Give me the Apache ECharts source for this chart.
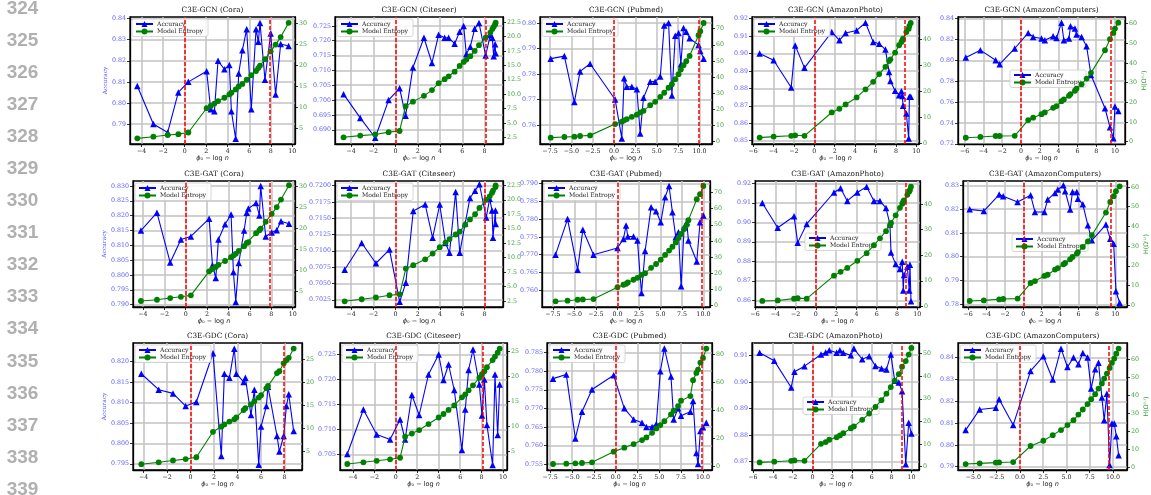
<!DOCTYPE html>
<html>
<head>
<meta charset="utf-8">
<script src="https://cdn.jsdelivr.net/npm/echarts@6/dist/echarts.min.js"></script>
<style>
  html, body { margin: 0; padding: 0; background: #ffffff; }
  #chart { width: 1151px; height: 495px; }
</style>
</head>
<body>
<div id="chart"></div>
<script>
// ---------------------------------------------------------------------------
// Accuracy and model entropy against phi_0 - log n, three models x five datasets
// ---------------------------------------------------------------------------

const lineNumbers = ['324', '325', '326', '327', '328', '329', '330', '331',
                     '332', '333', '334', '335', '336', '337', '338', '339'];

const titles = [
  'C3E-GCN (Cora)', 'C3E-GCN (Citeseer)', 'C3E-GCN (Pubmed)', 'C3E-GCN (AmazonPhoto)', 'C3E-GCN (AmazonComputers)',
  'C3E-GAT (Cora)', 'C3E-GAT (Citeseer)', 'C3E-GAT (Pubmed)', 'C3E-GAT (AmazonPhoto)', 'C3E-GAT (AmazonComputers)',
  'C3E-GDC (Cora)', 'C3E-GDC (Citeseer)', 'C3E-GDC (Pubmed)', 'C3E-GDC (AmazonPhoto)', 'C3E-GDC (AmazonComputers)'
];

const seriesNames = ['Accuracy', 'Model Entropy'];
const xAxisName = '{i|ϕ}₀ − log {i|n}';
const leftAxisName = 'Accuracy';
const rightAxisName = 'H(Ω⁽ᴸ⁾)';

// Vertical reference lines: phi_0 - log n = 0 and the upper threshold per panel
const lowerCut = 0;
const upperCuts = [7.9, 8.07, 9.9, 8.9, 9.57,
                   7.88, 8.06, 9.8, 8.88, 9.45,
                   7.94, 8.07, 9.9, 9.0, 9.53];

// ---- C3E-GCN ----
const gcnCoraPhi = [-4.40, -2.91, -1.58, -0.59, 0.34, 2.04, 2.42, 2.76, 3.10, 3.69, 4.15, 4.34, 4.74, 5.02, 5.36, 5.76, 6.19, 6.63, 6.84, 7.00, 7.46, 7.99, 8.45, 8.92, 9.66];
const gcnCoraAcc = [0.808, 0.790, 0.786, 0.805, 0.810, 0.815, 0.797, 0.796, 0.820, 0.816, 0.818, 0.796, 0.783, 0.814, 0.825, 0.835, 0.797, 0.835, 0.829, 0.838, 0.811, 0.833, 0.804, 0.828, 0.827];
const gcnCoraEnt = [2.6, 3.0, 3.4, 3.6, 4.0, 9.8, 10.35, 10.9, 11.5, 12.3, 13.1, 13.5, 14.3, 15.0, 15.6, 16.6, 17.7, 18.7, 19.4, 20.0, 21.5, 23.4, 25.0, 26.8, 30.2];

const gcnCiteseerPhi = [-4.68, -3.18, -1.83, -0.63, 0.36, 0.90, 1.56, 2.55, 3.27, 3.87, 4.41, 4.77, 5.31, 5.76, 6.12, 6.36, 6.72, 7.11, 7.50, 8.10, 8.52, 8.70, 8.82, 8.95, 9.00];
const gcnCiteseerAcc = [0.702, 0.694, 0.6873, 0.700, 0.704, 0.6947, 0.711, 0.721, 0.7125, 0.722, 0.721, 0.721, 0.719, 0.723, 0.725, 0.7155, 0.718, 0.724, 0.726, 0.715, 0.722, 0.721, 0.7148, 0.7188, 0.7158];
const gcnCiteseerEnt = [2.5, 2.8, 3.0, 3.4, 3.6, 7.9, 8.7, 9.7, 10.7, 11.9, 12.6, 13.1, 13.9, 14.9, 15.6, 16.0, 16.6, 17.5, 18.5, 19.8, 20.7, 21.3, 21.7, 22.1, 22.4];

const gcnPubmedPhi = [-7.42, -5.82, -4.65, -3.98, -2.81, 0.12, 0.90, 1.17, 1.48, 2.07, 2.66, 3.05, 3.44, 4.22, 4.80, 5.40, 5.86, 6.37, 6.76, 7.15, 7.54, 7.81, 8.12, 8.44, 8.83, 9.88, 10.08, 10.47];
const gcnPubmedAcc = [0.786, 0.787, 0.769, 0.781, 0.784, 0.770, 0.7548, 0.7783, 0.775, 0.775, 0.774, 0.7567, 0.7707, 0.777, 0.777, 0.779, 0.799, 0.800, 0.7716, 0.795, 0.796, 0.7838, 0.798, 0.7965, 0.794, 0.7913, 0.789, 0.786];
const gcnPubmedEnt = [2.5, 2.9, 3.1, 3.5, 3.9, 10.9, 12.4, 13.2, 14.0, 15.4, 16.7, 18.1, 19.1, 22.6, 24.7, 27.8, 30.3, 33.4, 35.6, 38.7, 41.8, 44.7, 47.4, 49.8, 53.1, 65.9, 68.4, 73.5];

const gcnPhotoPhi = [-5.35, -3.98, -2.26, -1.87, -0.96, 1.71, 2.46, 3.07, 4.15, 5.02, 5.77, 6.36, 6.97, 7.33, 7.46, 7.92, 8.31, 8.54, 8.63, 8.70, 9.02, 9.25, 9.32, 9.45];
const gcnPhotoAcc = [0.900, 0.8962, 0.8805, 0.9047, 0.8918, 0.9124, 0.9076, 0.9118, 0.9133, 0.9177, 0.9067, 0.9057, 0.9023, 0.8895, 0.8843, 0.8786, 0.8761, 0.8784, 0.8756, 0.870, 0.8656, 0.8513, 0.8752, 0.8752];
const gcnPhotoEnt = [2.2, 2.6, 2.9, 3.1, 2.9, 11.9, 13.3, 15.0, 17.7, 20.8, 23.7, 26.7, 29.5, 31.7, 32.4, 35.0, 37.8, 39.1, 39.7, 40.4, 42.9, 44.2, 45.3, 46.4];

const gcnComputersPhi = [-5.88, -4.33, -2.70, -2.27, -0.67, 0.76, 1.29, 2.18, 2.53, 3.42, 3.78, 4.31, 4.56, 5.10, 5.27, 5.74, 5.91, 6.45, 6.98, 7.45, 8.94, 9.47, 9.83, 10.00, 10.36];
const gcnComputersAcc = [0.8028, 0.8098, 0.8002, 0.7964, 0.8114, 0.8263, 0.8225, 0.8209, 0.8193, 0.8231, 0.8215, 0.8362, 0.8193, 0.8209, 0.8327, 0.8305, 0.8247, 0.8225, 0.8136, 0.7859, 0.7541, 0.7359, 0.7254, 0.7557, 0.7515];
const gcnComputersEnt = [2.0, 2.4, 2.9, 2.9, 3.0, 11.0, 12.2, 14.0, 14.9, 17.2, 18.1, 20.6, 21.5, 23.3, 24.2, 25.9, 27.0, 29.2, 32.1, 35.0, 46.5, 52.1, 55.3, 57.5, 60.5];

// ---- C3E-GAT ----
const gatCoraPhi = [-4.19, -2.69, -1.45, -0.45, 0.48, 2.19, 2.50, 2.81, 3.06, 3.68, 4.24, 4.46, 4.68, 4.96, 5.46, 5.71, 5.86, 6.58, 6.89, 7.01, 7.48, 8.04, 8.51, 8.91, 9.66];
const gatCoraAcc = [0.815, 0.821, 0.8042, 0.812, 0.813, 0.819, 0.8033, 0.799, 0.812, 0.8171, 0.8204, 0.801, 0.7909, 0.804, 0.815, 0.821, 0.8224, 0.8243, 0.8201, 0.830, 0.813, 0.8143, 0.8151, 0.8181, 0.8173];
const gatCoraEnt = [2.7, 3.0, 3.4, 3.7, 4.05, 9.75, 10.3, 10.8, 11.3, 12.2, 13.1, 13.5, 13.9, 14.6, 15.7, 16.5, 16.7, 18.8, 19.5, 19.9, 21.5, 23.4, 25.0, 26.8, 30.2];

const gatCiteseerPhi = [-4.58, -3.05, -1.77, -0.55, 0.37, 0.92, 1.59, 2.66, 3.33, 3.97, 4.49, 4.85, 5.40, 5.77, 6.26, 6.69, 7.15, 7.54, 8.15, 8.46, 8.67, 8.76, 8.98, 9.00];
const gatCiteseerAcc = [0.7071, 0.7112, 0.7081, 0.7102, 0.7022, 0.7051, 0.7161, 0.7171, 0.712, 0.7171, 0.7112, 0.7097, 0.719, 0.7097, 0.7142, 0.7181, 0.7192, 0.7202, 0.7151, 0.718, 0.7162, 0.712, 0.7162, 0.7141];
const gatCiteseerEnt = [2.45, 2.8, 3.1, 3.5, 3.65, 8.1, 8.7, 9.7, 10.7, 11.8, 12.6, 13.2, 14.0, 14.5, 15.7, 16.6, 17.5, 18.6, 20.0, 20.6, 21.2, 21.6, 22.2, 22.5];

const gatPubmedPhi = [-7.19, -5.80, -4.63, -4.02, -2.78, 0.01, 0.70, 1.01, 1.21, 1.87, 2.33, 2.80, 3.22, 3.92, 4.50, 5.04, 5.55, 6.01, 6.40, 6.79, 7.10, 7.41, 7.76, 8.07, 8.26, 9.23, 9.61, 10.00];
const gatPubmedAcc = [0.770, 0.780, 0.7658, 0.777, 0.770, 0.7719, 0.7744, 0.7782, 0.7751, 0.7751, 0.774, 0.7592, 0.771, 0.7833, 0.7822, 0.7791, 0.7861, 0.7893, 0.7819, 0.7749, 0.7763, 0.7611, 0.7777, 0.7791, 0.774, 0.7681, 0.7791, 0.781];
const gatPubmedEnt = [2.5, 2.9, 3.5, 3.7, 3.9, 11.3, 12.8, 13.4, 14.2, 15.9, 17.1, 18.9, 20.0, 23.3, 25.7, 28.4, 31.3, 34.0, 36.4, 39.1, 41.8, 44.3, 47.4, 50.0, 52.9, 65.9, 69.0, 74.1];

const gatPhotoPhi = [-5.28, -3.76, -2.15, -1.79, -0.90, 1.79, 2.44, 3.10, 4.09, 5.01, 5.73, 6.32, 6.92, 7.31, 7.41, 7.87, 8.29, 8.52, 8.62, 8.69, 9.02, 9.21, 9.28, 9.38];
const gatPhotoAcc = [0.9099, 0.8972, 0.9031, 0.8896, 0.8992, 0.9153, 0.9175, 0.911, 0.9153, 0.9183, 0.911, 0.911, 0.9073, 0.8989, 0.8845, 0.8786, 0.8761, 0.8798, 0.8651, 0.873, 0.8772, 0.8651, 0.8783, 0.8595];
const gatPhotoEnt = [2.1, 2.3, 3.0, 3.2, 3.0, 12.0, 13.5, 15.0, 17.8, 20.8, 23.9, 26.6, 29.4, 31.7, 32.6, 35.6, 38.5, 40.1, 41.0, 41.4, 43.6, 44.9, 45.5, 46.8];

const gatComputersPhi = [-5.82, -4.29, -2.62, -2.18, -0.62, 0.80, 1.27, 2.29, 2.65, 3.45, 3.75, 4.36, 4.55, 5.09, 5.35, 5.82, 5.93, 6.47, 7.02, 7.45, 8.98, 9.45, 9.82, 10.07, 10.47];
const gatComputersAcc = [0.8199, 0.8192, 0.8261, 0.8254, 0.823, 0.8258, 0.8188, 0.8188, 0.824, 0.8268, 0.8282, 0.830, 0.8275, 0.8198, 0.8272, 0.8272, 0.8244, 0.822, 0.8132, 0.8069, 0.8135, 0.8076, 0.8055, 0.7855, 0.7807];
const gatComputersEnt = [2.2, 2.5, 3.0, 3.2, 3.4, 11.3, 12.3, 14.9, 15.5, 18.1, 18.9, 20.8, 21.5, 23.3, 24.5, 26.2, 27.0, 29.6, 32.4, 35.5, 47.0, 52.4, 55.3, 57.8, 60.3];

// ---- C3E-GDC ----
const gdcCoraPhi = [-4.20, -2.72, -1.50, -0.42, 0.49, 1.91, 2.62, 2.88, 3.31, 3.73, 3.90, 4.52, 4.67, 5.15, 5.44, 5.81, 6.01, 6.46, 6.60, 7.37, 7.57, 7.94, 8.17, 8.37, 8.79];
const gdcCoraAcc = [0.817, 0.8131, 0.8122, 0.8091, 0.8101, 0.822, 0.7969, 0.817, 0.816, 0.8231, 0.817, 0.815, 0.816, 0.8069, 0.8131, 0.7948, 0.8041, 0.8091, 0.8138, 0.8018, 0.798, 0.8018, 0.8091, 0.812, 0.803];
const gdcCoraEnt = [2.3, 2.7, 3.1, 3.4, 3.8, 9.3, 10.4, 10.9, 11.5, 12.0, 12.4, 14.0, 14.4, 15.2, 15.9, 16.7, 17.2, 18.7, 19.2, 22.0, 22.4, 24.1, 24.8, 25.3, 27.3];

const gdcCiteseerPhi = [-4.52, -3.02, -1.78, -0.53, 0.40, 0.87, 1.50, 2.18, 3.05, 4.00, 4.45, 4.92, 5.45, 6.17, 6.48, 6.79, 7.20, 7.79, 8.04, 8.26, 8.50, 9.03, 9.25, 9.50, 9.69];
const gdcCiteseerAcc = [0.7051, 0.714, 0.709, 0.708, 0.712, 0.708, 0.7169, 0.7129, 0.721, 0.725, 0.7199, 0.723, 0.7179, 0.7059, 0.714, 0.7219, 0.726, 0.719, 0.7128, 0.720, 0.7109, 0.7029, 0.721, 0.7089, 0.719];
const gdcCiteseerEnt = [2.56, 2.9, 3.2, 3.5, 3.8, 8.0, 8.6, 9.3, 10.5, 11.8, 12.5, 13.3, 14.2, 15.8, 16.4, 17.2, 18.2, 19.7, 20.4, 21.0, 21.8, 23.2, 23.9, 24.7, 25.5];

const gdcPubmedPhi = [-7.18, -5.66, -4.62, -3.86, -2.71, -0.23, 0.99, 2.06, 3.02, 3.52, 4.17, 4.66, 5.12, 5.58, 6.34, 6.65, 7.15, 7.49, 8.56, 8.87, 9.25, 9.44, 9.71, 10.01, 10.39];
const gdcPubmedAcc = [0.778, 0.7791, 0.7619, 0.7691, 0.7751, 0.7789, 0.770, 0.767, 0.7661, 0.765, 0.765, 0.7658, 0.780, 0.7861, 0.7786, 0.767, 0.770, 0.768, 0.7691, 0.772, 0.758, 0.755, 0.7639, 0.7649, 0.7661];
const gdcPubmedEnt = [1.9, 2.1, 2.4, 2.6, 3.1, 10.7, 13.5, 16.1, 18.9, 20.8, 24.1, 27.2, 29.6, 32.4, 37.2, 39.8, 43.1, 46.9, 50.2, 61.5, 66.7, 69.1, 74.1, 77.4, 84.0];

const gdcPhotoPhi = [-5.33, -3.85, -2.14, -1.81, -0.80, 0.87, 1.34, 1.71, 2.45, 2.78, 3.12, 3.89, 4.19, 5.03, 5.74, 6.37, 6.98, 7.48, 7.92, 8.32, 8.73, 9.06, 9.43, 9.73, 10.00];
const gdcPhotoAcc = [0.9109, 0.9079, 0.8979, 0.9038, 0.9059, 0.9103, 0.911, 0.9119, 0.9109, 0.9119, 0.9109, 0.910, 0.9125, 0.9085, 0.9096, 0.906, 0.905, 0.9046, 0.9103, 0.9004, 0.8998, 0.8965, 0.8691, 0.8846, 0.8806];
const gdcPhotoEnt = [1.9, 2.2, 2.6, 2.75, 2.6, 10.1, 10.9, 11.9, 13.0, 13.8, 14.8, 17.0, 17.8, 20.7, 23.5, 26.4, 29.4, 32.3, 35.2, 38.1, 40.9, 44.2, 46.7, 49.6, 52.5];

const gdcComputersPhi = [-5.83, -4.32, -2.59, -2.23, -0.72, 1.15, 2.52, 3.53, 4.42, 5.11, 5.76, 6.29, 6.76, 7.27, 7.66, 8.09, 8.45, 8.81, 9.06, 9.35, 9.64, 9.89, 10.14, 10.36, 10.61];
const gdcComputersAcc = [0.8068, 0.8162, 0.817, 0.8209, 0.8091, 0.8339, 0.8406, 0.830, 0.8441, 0.8357, 0.840, 0.837, 0.8421, 0.840, 0.8258, 0.8347, 0.8376, 0.8217, 0.8113, 0.8235, 0.7908, 0.8098, 0.8098, 0.804, 0.7953];
const gdcComputersEnt = [2.0, 2.4, 2.8, 2.9, 3.1, 12.0, 14.9, 18.0, 20.8, 23.6, 26.3, 29.4, 32.2, 35.2, 37.9, 40.7, 43.8, 46.6, 49.3, 52.1, 55.2, 58.0, 60.4, 63.1, 65.9];

// ---------------------------------------------------------------------------
// Panel layout: grid box [left, top, width, height] in px, axis ranges as
// [min, max, tick step, label decimals], legend placement.
// ---------------------------------------------------------------------------
const panels = [
  { phi: gcnCoraPhi, acc: gcnCoraAcc, ent: gcnCoraEnt,
    box: [130, 17, 165, 127], x: [-5.08, 10.25, 2, 0], yl: [0.7805, 0.8408, 0.01, 2], yr: [1.25, 31.6, 5, 0], legend: 'ul' },
  { phi: gcnCiteseerPhi, acc: gcnCiteseerAcc, ent: gcnCiteseerEnt,
    box: [335, 17, 168, 127], x: [-5.45, 9.66, 2, 0], yl: [0.6852, 0.728, 0.005, 3], yr: [1.34, 23.4, 2.5, 1], legend: 'ul' },
  { phi: gcnPubmedPhi, acc: gcnPubmedAcc, ent: gcnPubmedEnt,
    box: [540, 17, 172, 127], x: [-8.67, 11.45, 2.5, 1], yl: [0.7526, 0.8023, 0.01, 2], yr: [-1.44, 77.2, 10, 0], legend: 'ul' },
  { phi: gcnPhotoPhi, acc: gcnPhotoAcc, ent: gcnPhotoEnt,
    box: [752, 17, 167, 127], x: [-6.1, 10.26, 2, 0], yl: [0.8481, 0.921, 0.01, 2], yr: [-0.26, 48.7, 10, 0], legend: 'ul' },
  { phi: gcnComputersPhi, acc: gcnComputersAcc, ent: gcnComputersEnt,
    box: [958, 17, 167, 127], x: [-6.71, 11.07, 2, 0], yl: [0.7198, 0.8416, 0.02, 2], yr: [-1.18, 63.4, 10, 0], legend: [1010, 70] },

  { phi: gatCoraPhi, acc: gatCoraAcc, ent: gatCoraEnt,
    box: [133, 181, 162, 126], x: [-4.93, 10.22, 2, 0], yl: [0.7892, 0.8317, 0.005, 3], yr: [1.28, 31.2, 5, 0], legend: 'ul' },
  { phi: gatCiteseerPhi, acc: gatCiteseerAcc, ent: gatCiteseerEnt,
    box: [335, 181, 168, 126], x: [-5.45, 9.66, 2, 0], yl: [0.7014, 0.7207, 0.0025, 4], yr: [1.46, 23.25, 2.5, 1], legend: 'ul' },
  { phi: gatPubmedPhi, acc: gatPubmedAcc, ent: gatPubmedEnt,
    box: [542, 181, 168, 126], x: [-8.77, 10.77, 2.5, 1], yl: [0.7553, 0.7907, 0.005, 3], yr: [-1.0, 77.2, 10, 0], legend: 'ul' },
  { phi: gatPhotoPhi, acc: gatPhotoAcc, ent: gatPhotoEnt,
    box: [755, 181, 165, 126], x: [-6.0, 10.27, 2, 0], yl: [0.8566, 0.9212, 0.01, 2], yr: [-0.26, 49.0, 10, 0], legend: [805, 233] },
  { phi: gatComputersPhi, acc: gatComputersAcc, ent: gatComputersEnt,
    box: [963, 181, 164, 126], x: [-6.55, 11.27, 2, 0], yl: [0.7789, 0.8318, 0.01, 2], yr: [-0.85, 63.0, 10, 0], legend: [1012, 234] },

  { phi: gdcCoraPhi, acc: gdcCoraAcc, ent: gdcCoraEnt,
    box: [133, 343, 169, 127], x: [-4.91, 9.5, 2, 0], yl: [0.7935, 0.8245, 0.005, 3], yr: [1.04, 28.5, 5, 0], legend: 'ul' },
  { phi: gdcCiteseerPhi, acc: gdcCiteseerAcc, ent: gdcCiteseerEnt,
    box: [340, 343, 167, 127], x: [-5.2, 10.37, 2, 0], yl: [0.7019, 0.7273, 0.005, 3], yr: [1.37, 26.6, 5, 0], legend: 'ul' },
  { phi: gdcPubmedPhi, acc: gdcPubmedAcc, ent: gdcPubmedEnt,
    box: [547, 343, 165, 127], x: [-7.87, 11.04, 2.5, 1], yl: [0.7534, 0.7876, 0.005, 3], yr: [-2.37, 88.0, 20, 0], legend: 'ul' },
  { phi: gdcPhotoPhi, acc: gdcPhotoAcc, ent: gdcPhotoEnt,
    box: [752, 343, 167, 127], x: [-6.1, 10.77, 2, 0], yl: [0.8669, 0.9146, 0.01, 2], yr: [-1.47, 54.7, 10, 0], legend: [803, 397] },
  { phi: gdcComputersPhi, acc: gdcComputersAcc, ent: gdcComputersEnt,
    box: [958, 343, 169, 127], x: [-6.65, 11.51, 2.5, 1], yl: [0.7885, 0.8467, 0.01, 2], yr: [-1.29, 69.0, 10, 0], legend: 'ul' }
];

// ---------------------------------------------------------------------------
// Styling
// ---------------------------------------------------------------------------
const SERIF = 'DejaVu Serif';
const SANS = 'DejaVu Sans';
const ACC_COLOR = '#0000ff';
const ENT_COLOR = '#008000';
const LEFT_LABEL = '#5a5aff';
const RIGHT_LABEL = '#3f9f3f';
const GRID_LINE = '#c2c2c2';
const CUT_COLOR = '#ff0000';
const TICK_FONT = 6.3;

function tickValues(min, max, step) {
  const out = [];
  for (let k = Math.ceil(min / step - 1e-9); k * step <= max + 1e-9; k++) {
    out.push(+(k * step).toFixed(6));
  }
  return out;
}

function fmt(dec) {
  return function (v) {
    const s = Math.abs(v).toFixed(dec);
    return (v < 0 && Number(s) !== 0 ? '−' : '') + s;
  };
}

function zip(xs, ys) {
  return xs.map(function (x, i) { return [x, ys[i]]; });
}

const option = {
  animation: false,
  backgroundColor: '#ffffff',
  title: [],
  grid: [],
  xAxis: [],
  yAxis: [],
  legend: [],
  series: [],
  graphic: []
};

panels.forEach(function (p, i) {
  const [gl, gt, gw, gh] = p.box;
  const col = i % 5;

  option.grid.push({
    left: gl, top: gt, width: gw, height: gh,
    show: true, borderColor: '#000', borderWidth: 1.3,
    containLabel: false, outerBoundsMode: 'none'
  });

  option.title.push({
    text: titles[i],
    left: gl + gw / 2, top: gt - 10.5, textAlign: 'center', padding: 0,
    textStyle: { fontFamily: SERIF, fontSize: 7.3, fontWeight: 'normal', color: '#111' }
  });

  const xt = tickValues(p.x[0], p.x[1], p.x[2]);
  option.xAxis.push({
    type: 'value', gridIndex: i, position: 'bottom',
    min: p.x[0], max: p.x[1], minInterval: p.x[2], maxInterval: p.x[2],
    axisLine: { show: true, onZero: false, lineStyle: { color: '#000', width: 1.3 } },
    axisTick: { show: true, length: 3, inside: false, customValues: xt, lineStyle: { color: '#000', width: 0.8 } },
    axisLabel: { customValues: xt, formatter: fmt(p.x[3]), fontFamily: SERIF, fontSize: TICK_FONT, color: '#222', margin: 4 },
    splitLine: { show: true, lineStyle: { color: GRID_LINE, width: 1.5 } },
    name: xAxisName, nameLocation: 'middle', nameGap: 10,
    nameTextStyle: { fontFamily: SANS, fontSize: 6.5, color: '#222',
      rich: { i: { fontFamily: SANS, fontSize: 6.5, fontStyle: 'italic', color: '#222' } } }
  });

  const ylt = tickValues(p.yl[0], p.yl[1], p.yl[2]);
  const left = {
    type: 'value', gridIndex: i, position: 'left',
    min: p.yl[0], max: p.yl[1], minInterval: p.yl[2], maxInterval: p.yl[2],
    axisLine: { show: true, onZero: false, lineStyle: { color: '#000', width: 1.3 } },
    axisTick: { show: true, length: 3, inside: false, customValues: ylt, lineStyle: { color: '#000', width: 0.8 } },
    axisLabel: { customValues: ylt, formatter: fmt(p.yl[3]), fontFamily: SERIF, fontSize: TICK_FONT, color: LEFT_LABEL, margin: 4 },
    splitLine: { show: true, lineStyle: { color: GRID_LINE, width: 1.5 } }
  };
  if (col === 0) {
    left.name = leftAxisName;
    left.nameLocation = 'middle';
    left.nameRotate = 90;
    left.nameGap = gl - 110;
    left.nameTextStyle = { fontFamily: SERIF, fontSize: 5.9, color: LEFT_LABEL };
  }
  option.yAxis.push(left);

  const yrt = tickValues(p.yr[0], p.yr[1], p.yr[2]);
  const right = {
    type: 'value', gridIndex: i, position: 'right',
    min: p.yr[0], max: p.yr[1], minInterval: p.yr[2], maxInterval: p.yr[2],
    axisLine: { show: true, onZero: false, lineStyle: { color: '#000', width: 1.3 } },
    axisTick: { show: true, length: 3, inside: false, customValues: yrt, lineStyle: { color: '#000', width: 0.8 } },
    axisLabel: { customValues: yrt, formatter: fmt(p.yr[3]), fontFamily: SERIF, fontSize: TICK_FONT, color: RIGHT_LABEL, margin: 4 },
    splitLine: { show: false }
  };
  if (col === 4) {
    right.name = rightAxisName;
    right.nameLocation = 'middle';
    right.nameRotate = 90;
    right.nameGap = 1139.5 - (gl + gw);
    right.nameTextStyle = { fontFamily: SANS, fontSize: 6.3, color: RIGHT_LABEL };
  }
  option.yAxis.push(right);

  const lg = p.legend === 'ul' ? [gl + 2, gt + 2] : p.legend;
  option.legend.push({
    data: seriesNames, orient: 'vertical', left: lg[0], top: lg[1],
    itemWidth: 17, itemHeight: 7.5, itemGap: 1.5, padding: [2, 5, 2, 3],
    backgroundColor: 'rgba(255,255,255,0.85)', borderColor: '#cccccc', borderWidth: 0.8, borderRadius: 2,
    selectedMode: false,
    textStyle: { fontFamily: SERIF, fontSize: 6.1, color: '#222', padding: [0, 0, 0, -1] }
  });

  option.series.push({
    type: 'line', name: seriesNames[0], xAxisIndex: i, yAxisIndex: 2 * i,
    data: zip(p.phi, p.acc),
    symbol: 'triangle', symbolSize: 6.5,
    lineStyle: { color: ACC_COLOR, width: 1.1 },
    itemStyle: { color: ACC_COLOR },
    z: 3,
    markLine: {
      silent: true, symbol: ['none', 'none'], label: { show: false },
      lineStyle: { color: CUT_COLOR, type: [4, 2], width: 1.5, opacity: 1 },
      emphasis: { disabled: true },
      data: [{ xAxis: lowerCut }, { xAxis: upperCuts[i] }]
    }
  });
  option.series.push({
    type: 'line', name: seriesNames[1], xAxisIndex: i, yAxisIndex: 2 * i + 1,
    data: zip(p.phi, p.ent),
    symbol: 'circle', symbolSize: 5.8,
    lineStyle: { color: ENT_COLOR, width: 1.1 },
    itemStyle: { color: ENT_COLOR },
    z: 4
  });
});

// Margin line numbers
lineNumbers.forEach(function (t, k) {
  option.graphic.push({
    type: 'text', x: 22.5, y: 8.5 + k * 32.07, silent: true,
    style: {
      text: t, fill: '#b0b0b0', font: 'bold 19px "Liberation Sans", Arial, sans-serif',
      align: 'center', verticalAlign: 'middle', textAlign: 'center', textVerticalAlign: 'middle'
    }
  });
});

const chart = echarts.init(document.getElementById('chart'), null, { renderer: 'canvas' });
chart.setOption(option);
</script>
</body>
</html>
